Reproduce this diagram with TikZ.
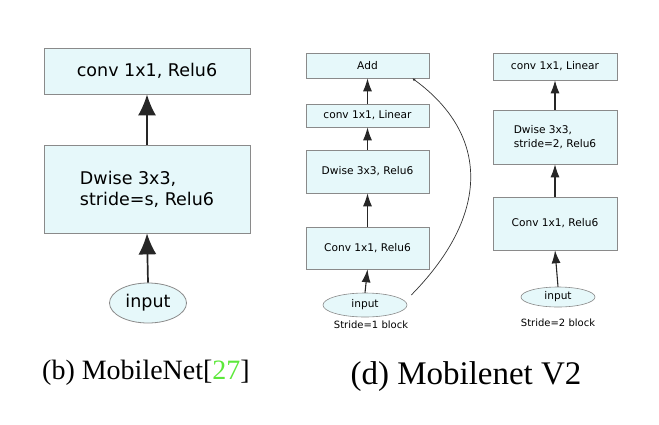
\documentclass[tikz,border=0pt]{standalone}
\usepackage{fontspec}
\setmainfont{Liberation Serif}
\setsansfont{DejaVu Sans}
\usetikzlibrary{shapes.geometric,arrows.meta}
\definecolor{boxfill}{HTML}{E6F8FA}
\definecolor{boxline}{HTML}{8A8A8A}
\definecolor{citegreen}{HTML}{5CE83A}
\begin{document}
\begin{tikzpicture}[x=1pt,y=-1pt,
  bigbox/.style={draw=boxline,fill=boxfill,line width=0.8pt,inner sep=0pt,
    minimum width=206pt,font=\sffamily\fontsize{17.5}{21}\selectfont,align=left},
  bigin/.style={ellipse,draw=boxline,fill=boxfill,line width=0.8pt,inner sep=0pt,
    minimum width=77pt,minimum height=40pt,font=\sffamily\fontsize{17.5}{21}\selectfont},
  bigarrow/.style={-{Latex[length=21pt,width=18pt]},line width=1.7pt,draw=black!85},
  smallbox/.style={draw=boxline,fill=boxfill,line width=0.6pt,inner sep=0pt,
    font=\sffamily\fontsize{10.6}{13.5}\selectfont,align=left},
  smallin/.style={ellipse,draw=boxline,fill=boxfill,line width=0.6pt,inner sep=0pt,
    font=\sffamily\fontsize{10.6}{13}\selectfont},
  smallarrow/.style={-{Latex[length=13pt,width=9pt]},line width=1.1pt,draw=black!85},
  blocklabel/.style={font=\sffamily\fontsize{10}{12}\selectfont},
  caption/.style={font=\rmfamily}
]
\useasboundingbox (0,0) rectangle (659,424);

% (b) MobileNet block
\node[bigbox,minimum height=46pt] (b1) at (147,71) {conv 1x1, Relu6};
\node[bigbox,minimum height=88pt] (b2) at (147,189) {Dwise 3x3,\\stride=s, Relu6};
\node[bigin] (bin) at (148,303) {input};
\draw[bigarrow] (bin.north) -- (b2.south);
\draw[bigarrow] (b2.north) -- (b1.south);

% (d) stride=1 block
\node[smallbox,minimum width=123pt,minimum height=25pt] (s1add) at (367.5,65.5) {Add};
\node[smallbox,minimum width=123pt,minimum height=23pt] (s1lin) at (367.5,115.5) {conv 1x1, Linear};
\node[smallbox,minimum width=123pt,minimum height=43pt] (s1dw) at (367.5,171.5) {Dwise 3x3, Relu6};
\node[smallbox,minimum width=123pt,minimum height=42pt] (s1pw) at (367.5,248) {Conv 1x1, Relu6};
\node[smallin,minimum width=84pt,minimum height=24pt] (s1in) at (365,305) {input};
\node[blocklabel] (s1lab) at (371,325) {Stride=1 block};
\draw[smallarrow] (s1in.north) -- (s1pw.south);
\draw[smallarrow] (s1pw.north) -- (s1dw.south);
\draw[smallarrow] (s1dw.north) -- (s1lin.south);
\draw[smallarrow] (s1lin.north) -- (s1add.south);
% shortcut from the input to the Add node
\draw[-{Latex[length=3pt,width=3pt]},line width=0.7pt,draw=black!80]
  ([xshift=4pt,yshift=10pt]s1in.east) .. controls (490,215) and (490,135) ..
  ([xshift=-17pt]s1add.south east);

% (d) stride=2 block
\node[smallbox,minimum width=124pt,minimum height=27pt] (s2lin) at (555,66.5) {conv 1x1, Linear};
\node[smallbox,minimum width=124pt,minimum height=54pt] (s2dw) at (555,137) {Dwise 3x3,\\stride=2, Relu6};
\node[smallbox,minimum width=124pt,minimum height=53pt] (s2pw) at (555,223.5) {Conv 1x1, Relu6};
\node[smallin,minimum width=74pt,minimum height=20pt] (s2in) at (558,297) {input};
\node[blocklabel] (s2lab) at (558,323) {Stride=2 block};
\draw[smallarrow] (s2in.north) -- (s2pw.south);
\draw[smallarrow] (s2pw.north) -- (s2dw.south);
\draw[smallarrow] (s2dw.north) -- (s2lin.south);

% captions
\node[caption,font=\rmfamily\fontsize{28}{32}\selectfont] (capb) at (146,373)
  {(b) MobileNet[\textcolor{citegreen}{27}]};
\node[caption,font=\rmfamily\fontsize{33}{38}\selectfont] (capd) at (466,377)
  {(d) Mobilenet V2};
\end{tikzpicture}
\end{document}
